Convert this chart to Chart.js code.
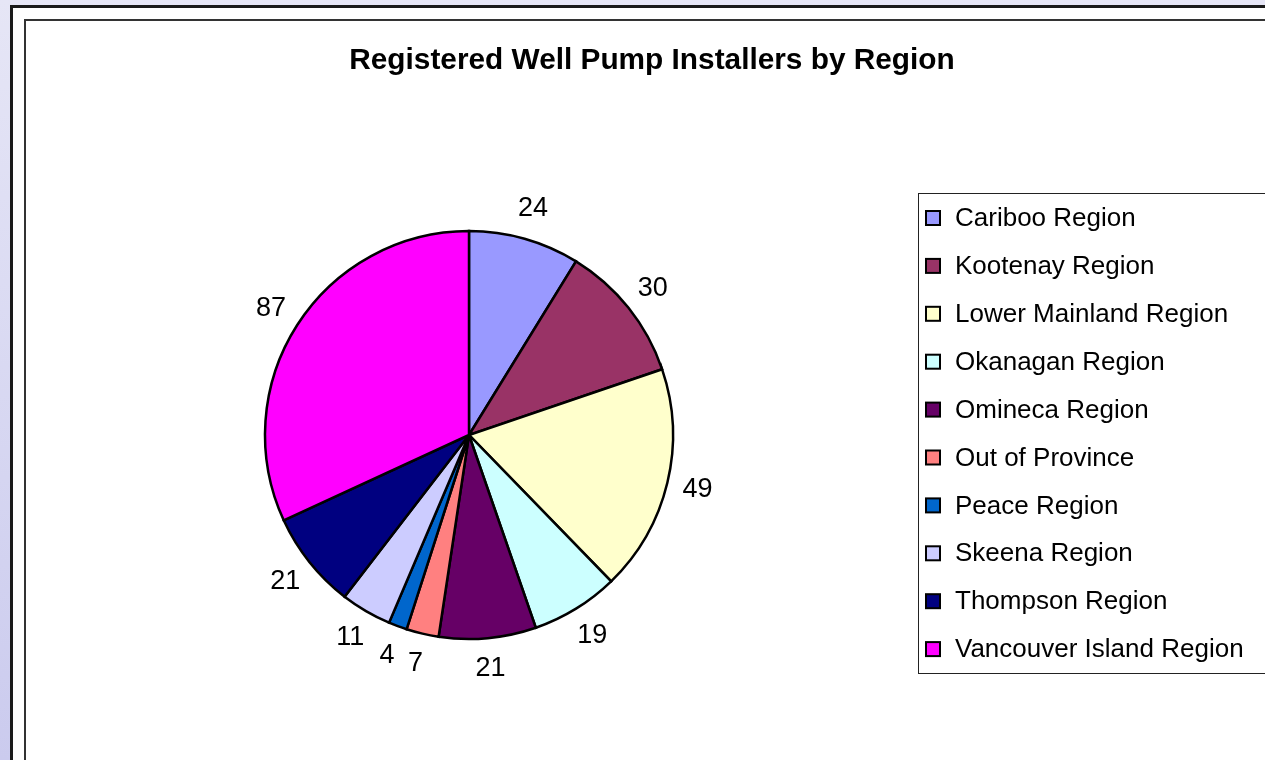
<!DOCTYPE html>
<html>
<head>
<meta charset="utf-8">
<script src="https://cdn.jsdelivr.net/npm/chart.js@4.4.0/dist/chart.umd.min.js"></script>
<style>
  html, body { margin: 0; padding: 0; }
  body { width: 1265px; height: 760px; overflow: hidden; position: relative;
         background: linear-gradient(#e6e6f6, #cbcbee); font-family: "Liberation Sans", Arial, sans-serif; }
  #outer { position: absolute; left: 10px; top: 5px; width: 1300px; height: 800px;
           background: #fff; border-left: 3px solid #1a1a1a; border-top: 3px solid #1a1a1a; box-sizing: border-box; }
  #inner { position: absolute; left: 24px; top: 19px; width: 1300px; height: 800px;
           border-left: 2px solid #333; border-top: 2px solid #333; box-sizing: border-box; }
  #wrap { position: absolute; left: 0; top: 0; width: 1265px; height: 760px; }
</style>
</head>
<body>
<div id="outer"></div>
<div id="inner"></div>
<div id="wrap"><canvas id="c" width="1265" height="760"></canvas></div>
<script>
const chartTitle = "Registered Well Pump Installers by Region";
const categories = ["Cariboo Region", "Kootenay Region", "Lower Mainland Region", "Okanagan Region",
  "Omineca Region", "Out of Province", "Peace Region", "Skeena Region", "Thompson Region", "Vancouver Island Region"];
const installers = [24, 30, 49, 19, 21, 7, 4, 11, 21, 87];
const sliceColors = ["#9999ff", "#993366", "#ffffcc", "#ccffff", "#660066", "#ff8080", "#0066cc", "#ccccff", "#000080", "#ff00ff"];

const FONT = '"Liberation Sans", Arial, sans-serif';

const titlePlugin = {
  id: 'xlTitle',
  afterDraw(chart) {
    const ctx = chart.ctx;
    ctx.save();
    ctx.font = 'bold 29.8px ' + FONT;
    ctx.fillStyle = '#000';
    ctx.textAlign = 'center';
    ctx.textBaseline = 'middle';
    ctx.fillText(chartTitle, 652, 61);
    ctx.restore();
  }
};

const labelPlugin = {
  id: 'xlLabels',
  afterDatasetsDraw(chart) {
    const ctx = chart.ctx;
    const meta = chart.getDatasetMeta(0);
    ctx.save();
    ctx.font = '27px ' + FONT;
    ctx.fillStyle = '#000';
    ctx.textAlign = 'center';
    ctx.textBaseline = 'middle';
    meta.data.forEach((arc, i) => {
      const p = arc.getProps(['x', 'y', 'startAngle', 'endAngle', 'outerRadius'], true);
      const mid = (p.startAngle + p.endAngle) / 2;
      const d = p.outerRadius + 31;
      ctx.fillText(String(chart.data.datasets[0].data[i]), p.x + Math.cos(mid) * d, p.y + Math.sin(mid) * d);
    });
    ctx.restore();
  }
};

const legendPlugin = {
  id: 'xlLegend',
  afterDraw(chart) {
    const ctx = chart.ctx;
    const ds = chart.data.datasets[0];
    ctx.save();
    ctx.fillStyle = '#fff';
    ctx.fillRect(918.5, 193.5, 400, 480);
    ctx.strokeStyle = '#222';
    ctx.lineWidth = 1;
    ctx.strokeRect(918.5, 193.5, 400, 480);
    ctx.font = '26px ' + FONT;
    ctx.textBaseline = 'middle';
    ctx.textAlign = 'left';
    chart.data.labels.forEach((lab, i) => {
      const cy = 218 + i * 47.9;
      ctx.fillStyle = ds.backgroundColor[i];
      ctx.fillRect(926, cy - 7, 14, 14);
      ctx.lineWidth = 2;
      ctx.strokeStyle = '#000';
      ctx.strokeRect(926, cy - 7, 14, 14);
      ctx.fillStyle = '#000';
      ctx.fillText(lab, 955, cy + 1);
    });
    ctx.restore();
  }
};

new Chart(document.getElementById('c'), {
  type: 'pie',
  data: {
    labels: categories,
    datasets: [{
      data: installers,
      backgroundColor: sliceColors,
      borderColor: '#000',
      borderWidth: 2.5,
      radius: 204,
      borderJoinStyle: 'miter'
    }]
  },
  options: {
    responsive: false,
    animation: false,
    events: [],
    layout: { padding: { left: 219, right: 546, top: 185, bottom: 75 } },
    plugins: { legend: { display: false }, title: { display: false }, tooltip: { enabled: false } }
  },
  plugins: [titlePlugin, labelPlugin, legendPlugin]
});
</script>
</body>
</html>
